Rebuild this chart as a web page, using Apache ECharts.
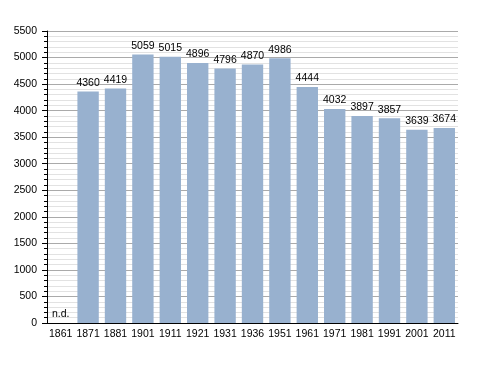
<!DOCTYPE html>
<html>
<head>
<meta charset="utf-8">
<script src="https://cdn.jsdelivr.net/npm/echarts@6/dist/echarts.min.js"></script>
<style>
html,body{margin:0;padding:0;background:#fff;}
#c{width:488px;height:373px;}
</style>
</head>
<body>
<div id="c"></div>
<script>
var years = ['1861','1871','1881','1901','1911','1921','1931','1936','1951','1961','1971','1981','1991','2001','2011'];
var population = [0, 4360, 4419, 5059, 5015, 4896, 4796, 4870, 4986, 4444, 4032, 3897, 3857, 3639, 3674];
var missingLabel = 'n.d.';
var missingIndex = [0];

var chart = echarts.init(document.getElementById('c'), null, {renderer:'canvas'});
var font = 'Liberation Sans, Arial, sans-serif';
chart.setOption({
  animation: false,
  backgroundColor: '#fff',
  grid: {left: 47, right: 30, top: 31, bottom: 50, containLabel: false},
  xAxis: {
    type: 'category',
    data: years,
    axisLine: {lineStyle: {color: '#000', width: 1}},
    axisTick: {show: false},
    axisLabel: {color: '#000', fontSize: 10.5, fontFamily: font, margin: 6, interval: 0}
  },
  yAxis: {
    type: 'value',
    min: 0, max: 5500, interval: 500,
    axisLine: {show: true, lineStyle: {color: '#000', width: 1}},
    axisTick: {show: true, length: 5, lineStyle: {color: '#000'}},
    minorTick: {show: true, splitNumber: 5, length: 3, lineStyle: {color: '#000'}},
    axisLabel: {color: '#000', fontSize: 10.5, fontFamily: font, margin: 10,
      formatter: function (v) { return String(v); }},
    splitLine: {show: true, lineStyle: {color: '#aaaaaa', width: 1}},
    minorSplitLine: {show: true, lineStyle: {color: '#e2e2e2', width: 1}}
  },
  series: [{
    type: 'bar',
    data: population,
    barCategoryGap: '22%',
    itemStyle: {color: '#98b1cf'},
    label: {
      show: true,
      position: 'top',
      distance: 3,
      color: '#000',
      fontSize: 10.5,
      fontFamily: font,
      formatter: function (p) {
        return missingIndex.indexOf(p.dataIndex) >= 0 ? missingLabel : p.value;
      }
    }
  }]
});
</script>
</body>
</html>
